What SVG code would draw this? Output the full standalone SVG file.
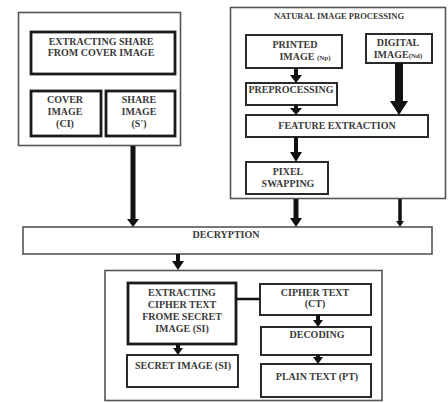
<svg xmlns="http://www.w3.org/2000/svg" width="448" height="403" viewBox="0 0 448 403">
<style>
rect{fill:#fff}
.outer{stroke:#555;stroke-width:1.6}
.box{stroke:#2a2a2a;stroke-width:2}
.thick{stroke:#1a1a1a;stroke-width:2.8}
text{font-family:"Liberation Serif","Times New Roman",serif;font-weight:bold;font-size:10px;fill:#3a3a3a;text-anchor:middle}
.sh{stroke:#111;fill:none}
.hd{fill:#111}
</style>
<rect width="448" height="403" fill="#fff"/>
<g id="cover-group">
<rect class="outer" x="18.5" y="12.5" width="162" height="133"/>
</g>
<g id="extract-share">
<rect class="thick" x="31" y="32" width="144" height="42"/>
<text x="101" y="45">EXTRACTING SHARE</text>
<text x="101" y="56">FROM COVER IMAGE</text>
</g>
<g id="cover-image">
<rect class="thick" x="31" y="91" width="70" height="45"/>
<text x="65" y="103">COVER</text>
<text x="65" y="115">IMAGE</text>
<text x="65" y="127">(CI)</text>
</g>
<g id="share-image">
<rect class="thick" x="106" y="91" width="69" height="45"/>
<text x="139" y="103">SHARE</text>
<text x="139" y="115">IMAGE</text>
<text x="139" y="127">(S')</text>
</g>
<g id="natural-group">
<rect class="outer" x="230.5" y="7.5" width="215" height="191"/>
<text x="339" y="19" style="font-size:8.5px">NATURAL IMAGE PROCESSING</text>
</g>
<g id="printed-image">
<rect class="box" x="246" y="35" width="96" height="33"/>
<text x="295" y="48">PRINTED</text>
<text x="305" y="60">IMAGE <tspan style="font-size:7px">(Np)</tspan></text>
</g>
<g id="digital-image">
<rect class="box" x="366" y="34" width="66" height="29"/>
<text x="398" y="46">DIGITAL</text>
<text x="398" y="58">IMAGE<tspan style="font-size:7px">(Nd)</tspan></text>
</g>
<g id="preprocessing">
<rect class="box" x="246" y="83" width="91" height="22"/>
<text x="291" y="93">PREPROCESSING</text>
</g>
<g id="feature-extraction">
<rect class="box" x="246" y="115" width="182" height="22"/>
<text x="337" y="129">FEATURE EXTRACTION</text>
</g>
<g id="pixel-swapping">
<rect class="box" x="246" y="162" width="82" height="32"/>
<text x="288" y="175">PIXEL</text>
<text x="288" y="187">SWAPPING</text>
</g>
<g id="decryption">
<rect class="outer" x="23" y="227" width="409" height="27"/>
<text x="226" y="238">DECRYPTION</text>
</g>
<g id="bottom-group">
<rect class="outer" x="105" y="270.5" width="277" height="130"/>
</g>
<g id="extract-cipher">
<rect class="thick" x="128" y="283" width="108" height="61"/>
<text x="182" y="296">EXTRACTING</text>
<text x="182" y="308">CIPHER TEXT</text>
<text x="182" y="320">FROME SECRET</text>
<text x="182" y="332">IMAGE (SI)</text>
</g>
<g id="secret-image">
<rect class="box" x="127" y="355" width="111" height="32"/>
<text x="183" y="369">SECRET IMAGE (SI)</text>
</g>
<g id="cipher-text">
<rect class="box" x="260" y="284" width="111" height="31"/>
<text x="315" y="296">CIPHER TEXT</text>
<text x="315" y="307">(CT)</text>
</g>
<g id="decoding">
<rect class="box" x="261" y="327" width="110" height="28"/>
<text x="317" y="338">DECODING</text>
</g>
<g id="plain-text">
<rect class="box" x="261" y="364" width="110" height="33"/>
<text x="317" y="380">PLAIN TEXT (PT)</text>
</g>
<g id="connectors">
<line class="sh" x1="133" y1="146" x2="133" y2="220" stroke-width="5"/>
<polygon class="hd" points="127,219 139,219 133,227"/>
<line class="sh" x1="296" y1="68" x2="296" y2="76" stroke-width="4"/>
<polygon class="hd" points="290,75 302,75 296,83"/>
<line class="sh" x1="296" y1="105" x2="296" y2="109" stroke-width="4"/>
<polygon class="hd" points="290,108 302,108 296,115"/>
<line class="sh" x1="399" y1="63" x2="399" y2="102" stroke-width="8"/>
<polygon class="hd" points="390,101 408,101 399,115"/>
<line class="sh" x1="296" y1="137" x2="296" y2="153" stroke-width="4"/>
<polygon class="hd" points="290,152 302,152 296,162"/>
<line class="sh" x1="296" y1="199" x2="296" y2="219" stroke-width="5"/>
<polygon class="hd" points="290,218 302,218 296,227"/>
<line class="sh" x1="400" y1="199" x2="400" y2="222" stroke-width="3.5"/>
<polygon class="hd" points="396,221 404,221 400,227"/>
<line class="sh" x1="178" y1="254" x2="178" y2="262" stroke-width="4"/>
<polygon class="hd" points="172,261 184,261 178,270"/>
<line class="sh" x1="236" y1="299" x2="260" y2="299" stroke-width="2.5"/>
<line class="sh" x1="178" y1="344" x2="178" y2="349" stroke-width="4"/>
<polygon class="hd" points="173,348 183,348 178,355"/>
<line class="sh" x1="318" y1="315" x2="318" y2="321" stroke-width="4"/>
<polygon class="hd" points="313,320 323,320 318,327"/>
<line class="sh" x1="318" y1="355" x2="318" y2="358" stroke-width="4"/>
<polygon class="hd" points="313,357 323,357 318,364"/>
</g>
</svg>
